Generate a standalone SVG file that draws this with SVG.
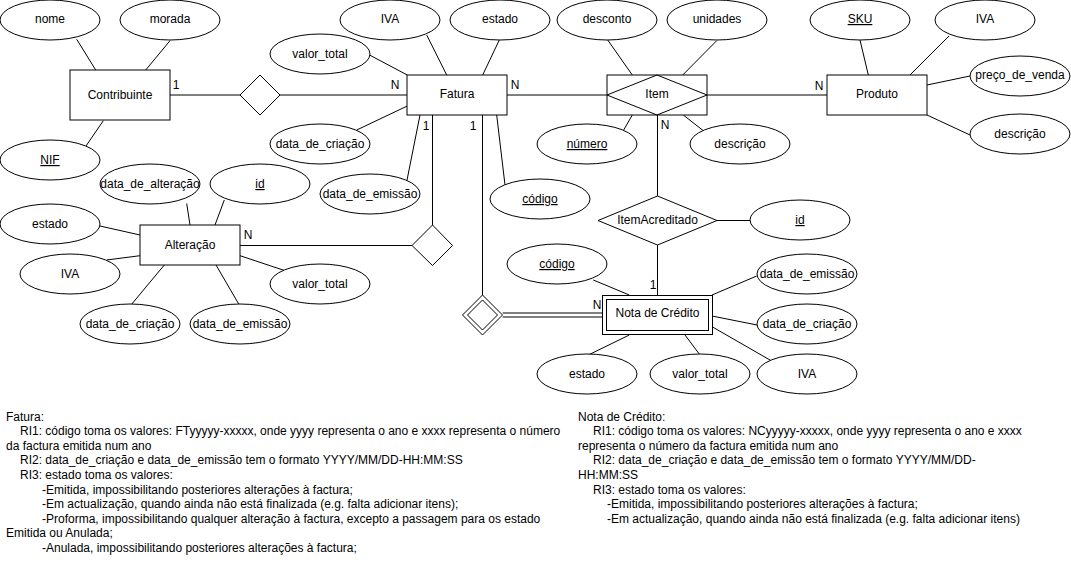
<svg xmlns="http://www.w3.org/2000/svg" width="1071" height="569" viewBox="0 0 1071 569">
<style>
.e{fill:#fff;stroke:#000;stroke-width:1}
.r{fill:#fff;stroke:#000;stroke-width:1}
.c line{stroke:#000;stroke-width:1}
text{font-family:"Liberation Sans",Arial,sans-serif;font-size:12px;fill:#000}
.m{text-anchor:middle}
.u{text-decoration:underline}
</style>
<rect x="0" y="0" width="1071" height="569" fill="#fff"/>
<g id="connectors" class="c">
<line x1="76.7" y1="39.3" x2="95.7" y2="70"/>
<line x1="170" y1="40.7" x2="145.7" y2="70"/>
<line x1="103.3" y1="120.7" x2="86" y2="146"/>
<line x1="170" y1="95" x2="240" y2="95"/>
<line x1="280" y1="95" x2="407" y2="95"/>
<line x1="369.5" y1="55" x2="407.3" y2="75"/>
<line x1="426.7" y1="35" x2="446.7" y2="75"/>
<line x1="499.3" y1="40" x2="482.7" y2="75"/>
<line x1="356.7" y1="130" x2="407.3" y2="106"/>
<line x1="406.7" y1="181.7" x2="420" y2="115"/>
<line x1="505" y1="185" x2="496.7" y2="115"/>
<line x1="432.5" y1="115" x2="432.5" y2="225"/>
<line x1="482.5" y1="115" x2="482.5" y2="295"/>
<line x1="507" y1="95" x2="607" y2="95"/>
<line x1="607.7" y1="40" x2="632.3" y2="75"/>
<line x1="716.7" y1="40.7" x2="682.7" y2="75"/>
<line x1="623.3" y1="130.7" x2="632.3" y2="115"/>
<line x1="703.3" y1="130.7" x2="683.3" y2="115"/>
<line x1="707" y1="95" x2="827" y2="95"/>
<line x1="657.5" y1="115" x2="657.5" y2="196"/>
<line x1="860" y1="40" x2="868.3" y2="75"/>
<line x1="949" y1="36" x2="910" y2="75"/>
<line x1="970" y1="76" x2="927" y2="85"/>
<line x1="970" y1="135" x2="927" y2="115"/>
<line x1="717" y1="220.5" x2="750" y2="220.5"/>
<line x1="657.5" y1="245" x2="657.5" y2="295"/>
<line x1="186.7" y1="203.5" x2="190" y2="225"/>
<line x1="224.3" y1="200" x2="215" y2="225"/>
<line x1="100" y1="226" x2="140" y2="235"/>
<line x1="106.7" y1="260" x2="140" y2="255.7"/>
<line x1="131" y1="305" x2="164.3" y2="265"/>
<line x1="239.3" y1="305" x2="216" y2="265"/>
<line x1="286" y1="271" x2="240" y2="255.7"/>
<line x1="240" y1="245.5" x2="412" y2="245.5"/>
<line x1="502.7" y1="313" x2="602" y2="313"/>
<line x1="502.7" y1="317" x2="602" y2="317"/>
<line x1="593.3" y1="280" x2="629.3" y2="295"/>
<line x1="756.7" y1="276" x2="712" y2="295"/>
<line x1="757" y1="325" x2="712" y2="316"/>
<line x1="771.7" y1="361" x2="712" y2="326.7"/>
<line x1="588.3" y1="355" x2="629.3" y2="335"/>
<line x1="700" y1="355" x2="685" y2="335"/>
<text x="176" y="89" class="m">1</text>
<text x="395" y="89" class="m">N</text>
<text x="515" y="89" class="m">N</text>
<text x="426" y="130" class="m">1</text>
<text x="473" y="130" class="m">1</text>
<text x="665" y="129" class="m">N</text>
<text x="819" y="90" class="m">N</text>
<text x="248" y="239" class="m">N</text>
<text x="653" y="289" class="m">1</text>
<text x="597" y="309" class="m">N</text>
</g>
<g id="contribuinte"><rect class="r" x="70" y="70" width="100" height="50"/><text x="120" y="99" class="m">Contribuinte</text></g>
<g id="c-nome"><ellipse class="e" cx="50" cy="20" rx="50" ry="20"/><text x="50" y="23" class="m">nome</text></g>
<g id="c-morada"><ellipse class="e" cx="170" cy="20" rx="50" ry="20"/><text x="170" y="23" class="m">morada</text></g>
<g id="c-nif"><ellipse class="e" cx="50" cy="160" rx="50" ry="20"/><text x="50" y="164" class="m u">NIF</text></g>
<g id="rel-contribuinte-fatura"><polygon class="e" points="240,95 260,75 280,95 260,115"/></g>
<g id="fatura"><rect class="r" x="407" y="75" width="100" height="40"/><text x="457" y="98" class="m">Fatura</text></g>
<g id="f-valor_total"><ellipse class="e" cx="320" cy="54" rx="50" ry="20"/><text x="320" y="58" class="m">valor_total</text></g>
<g id="f-iva"><ellipse class="e" cx="390" cy="20" rx="50" ry="20"/><text x="390" y="23" class="m">IVA</text></g>
<g id="f-estado"><ellipse class="e" cx="500" cy="20" rx="50" ry="20"/><text x="500" y="23" class="m">estado</text></g>
<g id="f-data_de_criacao"><ellipse class="e" cx="320" cy="144" rx="50" ry="20"/><text x="320" y="148" class="m">data_de_criação</text></g>
<g id="f-data_de_emissao"><ellipse class="e" cx="370" cy="194" rx="50" ry="20"/><text x="370" y="198" class="m">data_de_emissão</text></g>
<g id="f-codigo"><ellipse class="e" cx="540" cy="199" rx="50" ry="20"/><text x="540" y="203" class="m u">código</text></g>
<g id="item"><rect class="r" x="607" y="75" width="100" height="40"/><polygon fill="none" stroke="#000" points="607,95 657,75 707,95 657,115"/><text x="657" y="98" class="m">Item</text></g>
<g id="i-desconto"><ellipse class="e" cx="607" cy="20" rx="50" ry="20"/><text x="607" y="23" class="m">desconto</text></g>
<g id="i-unidades"><ellipse class="e" cx="717" cy="20" rx="50" ry="20"/><text x="717" y="23" class="m">unidades</text></g>
<g id="i-numero"><ellipse class="e" cx="587" cy="144" rx="50" ry="20"/><text x="587" y="148" class="m u">número</text></g>
<g id="i-descricao"><ellipse class="e" cx="740" cy="144" rx="50" ry="20"/><text x="740" y="148" class="m">descrição</text></g>
<g id="produto"><rect class="r" x="827" y="75" width="100" height="40"/><text x="877" y="98" class="m">Produto</text></g>
<g id="p-sku"><ellipse class="e" cx="860" cy="20" rx="50" ry="20"/><text x="860" y="23" class="m u">SKU</text></g>
<g id="p-iva"><ellipse class="e" cx="985" cy="20" rx="50" ry="20"/><text x="985" y="23" class="m">IVA</text></g>
<g id="p-preco"><ellipse class="e" cx="1020" cy="76" rx="50" ry="20"/><text x="1020" y="79" class="m">preço_de_venda</text></g>
<g id="p-descricao"><ellipse class="e" cx="1020" cy="134" rx="50" ry="20"/><text x="1020" y="138" class="m">descrição</text></g>
<g id="itemacreditado"><polygon class="e" points="598,220.5 657.5,196 717,220.5 657.5,245"/><text x="657.5" y="224" class="m">ItemAcreditado</text></g>
<g id="ia-id"><ellipse class="e" cx="800" cy="220" rx="50" ry="20"/><text x="800" y="224" class="m u">id</text></g>
<g id="alteracao"><rect class="r" x="140" y="225" width="100" height="40"/><text x="190" y="249" class="m">Alteração</text></g>
<g id="a-data_de_alteracao"><ellipse class="e" cx="150" cy="184" rx="50" ry="20"/><text x="150" y="188" class="m">data_de_alteração</text></g>
<g id="a-id"><ellipse class="e" cx="260" cy="184" rx="50" ry="20"/><text x="260" y="188" class="m u">id</text></g>
<g id="a-estado"><ellipse class="e" cx="50" cy="224" rx="50" ry="20"/><text x="50" y="228" class="m">estado</text></g>
<g id="a-iva"><ellipse class="e" cx="70" cy="274" rx="50" ry="20"/><text x="70" y="278" class="m">IVA</text></g>
<g id="a-data_de_criacao"><ellipse class="e" cx="130" cy="324" rx="50" ry="20"/><text x="130" y="328" class="m">data_de_criação</text></g>
<g id="a-data_de_emissao"><ellipse class="e" cx="240" cy="324" rx="50" ry="20"/><text x="240" y="328" class="m">data_de_emissão</text></g>
<g id="a-valor_total"><ellipse class="e" cx="320" cy="284" rx="50" ry="20"/><text x="320" y="288" class="m">valor_total</text></g>
<g id="rel-fatura-alteracao"><polygon class="e" points="412,245.5 432.5,225 452.5,245.5 432.5,265.5"/></g>
<g id="rel-fatura-nota"><polygon class="e" points="462.5,315 482.5,295 502.5,315 482.5,335"/><polygon fill="none" stroke="#000" points="467.5,315 482.5,300 497.5,315 482.5,330"/></g>
<g id="nota-de-credito"><rect class="r" x="602.5" y="295.5" width="110" height="39"/><rect fill="none" stroke="#000" x="606.5" y="299.5" width="102" height="31"/><text x="657.5" y="317" class="m">Nota de Crédito</text></g>
<g id="n-codigo"><ellipse class="e" cx="557" cy="264" rx="50" ry="20"/><text x="557" y="268" class="m u">código</text></g>
<g id="n-data_de_emissao"><ellipse class="e" cx="807" cy="274" rx="50" ry="20"/><text x="807" y="278" class="m">data_de_emissão</text></g>
<g id="n-data_de_criacao"><ellipse class="e" cx="807" cy="324" rx="50" ry="20"/><text x="807" y="328" class="m">data_de_criação</text></g>
<g id="n-iva"><ellipse class="e" cx="807" cy="374" rx="50" ry="20"/><text x="807" y="378" class="m">IVA</text></g>
<g id="n-estado"><ellipse class="e" cx="587" cy="374" rx="50" ry="20"/><text x="587" y="378" class="m">estado</text></g>
<g id="n-valor_total"><ellipse class="e" cx="700" cy="374" rx="50" ry="20"/><text x="700" y="378" class="m">valor_total</text></g>
<g id="notes-fatura">
<text x="6" y="420.5">Fatura:</text>
<text x="20" y="435.1">RI1: código toma os valores: FTyyyyy-xxxxx, onde yyyy representa o ano e xxxx representa o número</text>
<text x="6" y="449.7">da factura emitida num ano</text>
<text x="20" y="464.3">RI2: data_de_criação e data_de_emissão tem o formato YYYY/MM/DD-HH:MM:SS</text>
<text x="20" y="478.9">RI3: estado toma os valores:</text>
<text x="42" y="493.5">-Emitida, impossibilitando posteriores alterações à factura;</text>
<text x="42" y="508.1">-Em actualização, quando ainda não está finalizada (e.g. falta adicionar itens);</text>
<text x="42" y="522.7">-Proforma, impossibilitando qualquer alteração à factura, excepto a passagem para os estado</text>
<text x="6" y="537.3">Emitida ou Anulada;</text>
<text x="42" y="551.9">-Anulada, impossibilitando posteriores alterações à factura;</text>
</g>
<g id="notes-nota">
<text x="578" y="420.5">Nota de Crédito:</text>
<text x="593" y="435.1">RI1: código toma os valores: NCyyyyy-xxxxx, onde yyyy representa o ano e xxxx</text>
<text x="578" y="449.7">representa o número da factura emitida num ano</text>
<text x="593" y="464.3">RI2: data_de_criação e data_de_emissão tem o formato YYYY/MM/DD-</text>
<text x="578" y="478.9">HH:MM:SS</text>
<text x="593" y="493.5">RI3: estado toma os valores:</text>
<text x="607" y="508.1">-Emitida, impossibilitando posteriores alterações à factura;</text>
<text x="607" y="522.7">-Em actualização, quando ainda não está finalizada (e.g. falta adicionar itens)</text>
</g>
</svg>
